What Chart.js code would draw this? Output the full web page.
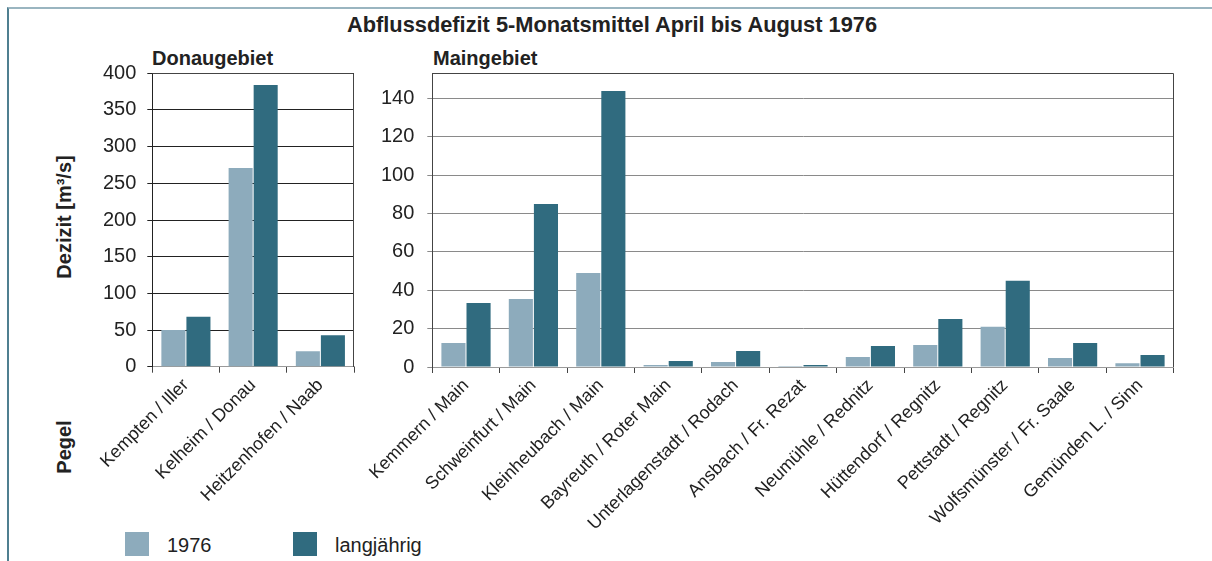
<!DOCTYPE html>
<html>
<head>
<meta charset="utf-8">
<script src="https://cdn.jsdelivr.net/npm/chart.js@4/dist/chart.umd.min.js"></script>
<style>
  html, body { margin:0; padding:0; background:#fff; }
  body { width:1212px; height:561px; position:relative; overflow:hidden; font-family:"Liberation Sans", Arial, sans-serif; color:#222; }
  .frame { position:absolute; left:7px; top:7px; width:1220px; height:600px; border-top:2px solid #9ab5c0; border-left:2px solid #4f7f90; box-sizing:border-box; }
  .abs { position:absolute; white-space:nowrap; line-height:1; }
  .title { font-weight:bold; font-size:21.8px; left:612px; top:14px; transform:translateX(-50%); }
  .sub { font-weight:bold; font-size:20px; top:48px; }
  .vt { font-weight:bold; font-size:20px; transform:translate(-50%,-50%) rotate(-90deg); }
  .sw { position:absolute; width:24px; height:24px; }
  .lt { font-size:20px; }
  #c1wrap { position:absolute; left:40px; top:40px; width:330px; height:521px; }
  #c2wrap { position:absolute; left:300px; top:40px; width:900px; height:521px; }
</style>
</head>
<body>
<div class="frame"></div>
<div class="abs title">Abflussdefizit 5-Monatsmittel April bis August 1976</div>
<div class="abs sub" style="left:152px;">Donaugebiet</div>
<div class="abs sub" style="left:433px;">Maingebiet</div>
<div class="abs vt" style="left:64px; top:217px;">Dezizit [m³/s]</div>
<div class="abs vt" style="left:64px; top:447px;">Pegel</div>
<div class="sw" style="left:125px; top:532px; background:#8dabbc;"></div>
<div class="abs lt" style="left:167px; top:535px;">1976</div>
<div class="sw" style="left:293px; top:532px; background:#306b7f;"></div>
<div class="abs lt" style="left:335px; top:535px;">langjährig</div>
<div id="c1wrap"><canvas id="c1"></canvas></div>
<div id="c2wrap"><canvas id="c2"></canvas></div>
<script>
const seriesLabels = ['1976', 'langjährig'];
const seriesColors = ['#8dabbc', '#306b7f'];

const donauCategories = ['Kempten / Iller', 'Kelheim / Donau', 'Heitzenhofen / Naab'];
const donau1976 = [50, 271, 21];
const donauLang = [68, 384, 43];
const donauTicks = [0, 50, 100, 150, 200, 250, 300, 350, 400];

const mainCategories = ['Kemmern / Main', 'Schweinfurt / Main', 'Kleinheubach / Main', 'Bayreuth / Roter Main',
  'Unterlagenstadt / Rodach', 'Ansbach / Fr. Rezat', 'Neumühle / Rednitz', 'Hüttendorf / Regnitz',
  'Pettstadt / Regnitz', 'Wolfsmünster / Fr. Saale', 'Gemünden L. / Sinn'];
const main1976 = [12.5, 35.5, 49, 1, 2.6, 0.5, 5.2, 11.5, 21, 4.7, 2];
const mainLang = [33.4, 85, 144, 3.1, 8.3, 1, 11, 25, 45, 12.5, 6.3];
const mainTicks = [0, 20, 40, 60, 80, 100, 120, 140];

const borderPlugin = {
  id: 'areaBorder',
  afterDraw(chart, args, opts) {
    const a = chart.chartArea, ctx = chart.ctx;
    ctx.save();
    ctx.strokeStyle = opts.color;
    ctx.lineWidth = 1;
    ctx.beginPath();
    const l = Math.round(a.left) + 0.5, r = Math.round(a.right) - 0.5, t = Math.round(a.top) + 0.5;
    ctx.moveTo(l, t); ctx.lineTo(r, t); ctx.lineTo(r, Math.round(a.bottom));
    ctx.stroke();
    ctx.restore();
  }
};

function makeChart(id, cats, d1, d2, yMax, tickVals, opt) {
  return new Chart(document.getElementById(id), {
    type: 'bar',
    data: {
      labels: cats,
      datasets: [
        { label: seriesLabels[0], data: d1, backgroundColor: seriesColors[0], borderWidth: 0, categoryPercentage: 0.745, barPercentage: 0.96 },
        { label: seriesLabels[1], data: d2, backgroundColor: seriesColors[1], borderWidth: 0, categoryPercentage: 0.745, barPercentage: 0.96 }
      ]
    },
    options: {
      responsive: true,
      maintainAspectRatio: false,
      animation: false,
      layout: { padding: { top: opt.top, right: opt.right, left: 0, bottom: 0 } },
      plugins: { legend: { display: false }, tooltip: { enabled: false }, title: { display: false }, areaBorder: { color: opt.frame } },
      scales: {
        x: {
          grid: { offset: true, drawOnChartArea: false, drawTicks: true, tickLength: 6, color: '#444' },
          border: { color: '#9a9a9a', width: 1 },
          ticks: { autoSkip: false, minRotation: opt.rot, maxRotation: opt.rot, padding: 2, color: '#222',
                   font: { family: '"Liberation Sans", Arial, sans-serif', size: opt.xfs } },
          afterFit(s) { s.height = opt.xh; }
        },
        y: {
          min: 0, max: yMax,
          grid: { color: opt.grid, tickLength: 5, drawTicks: true },
          border: { color: opt.axis, width: 1 },
          afterBuildTicks(s) { s.ticks = tickVals.map(v => ({ value: v })); },
          ticks: { padding: opt.tpad, color: '#222', font: { family: '"Liberation Sans", Arial, sans-serif', size: 20 } },
          afterFit(s) { s.width = opt.yw; }
        }
      }
    },
    plugins: [borderPlugin]
  });
}

makeChart('c1', donauCategories, donau1976, donauLang, 400, donauTicks,
  { top: 33.3, right: 16, xh: 194.3, yw: 112.3, rot: 45, xfs: 18, grid: '#222', axis: '#222', frame: '#444', tpad: 11 });
makeChart('c2', mainCategories, main1976, mainLang, 153.2, mainTicks,
  { top: 33.3, right: 26.3, xh: 194, yw: 132.3, rot: 45, xfs: 18, grid: '#8a8a8a', axis: '#444', frame: '#444', tpad: 13 });
</script>
</body>
</html>
